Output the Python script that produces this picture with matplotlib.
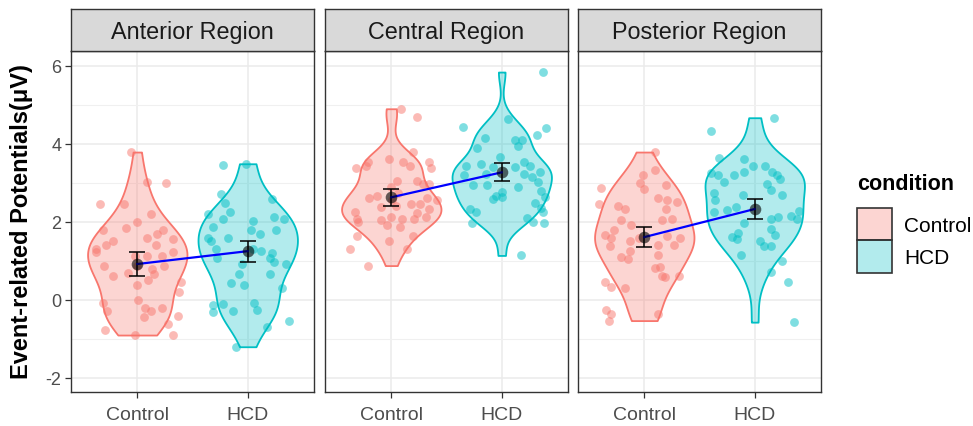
import numpy as np
import matplotlib
matplotlib.use('Agg')
import matplotlib.pyplot as plt
from matplotlib.patches import Patch

plt.rcParams['font.family'] = ['Liberation Sans', 'DejaVu Sans']
plt.rcParams['axes.unicode_minus'] = False

# ---- data ----
regions = ['Anterior Region', 'Central Region', 'Posterior Region']
conditions = ['Control', 'HCD']
colors = ['#F8766D', '#00BFC4']

# Anterior
ant_ctrl_y = [3.79, 2.99, 3.02, 2.45, 2.45, 2.21, 1.99, 1.80, 1.84, 1.80, 1.69, 1.58, 1.55, 1.50, 1.41,
              1.41, 1.31, 1.24, 1.22, 1.12, 1.12, 1.12, 0.88, 0.86, 0.88, 0.79, 0.69, 0.61, 0.67, 0.50,
              0.45, 0.38, 0.21, 0.00, -0.08, -0.28, -0.21, -0.29, -0.21, -0.44, -0.40, -0.62, -0.77,
              -0.89, -0.90]
ant_ctrl_jit = [-0.06, 0.26, 0.09, -0.34, -0.12, 0.12, 0.00, -0.31, -0.10, 0.23, 0.18, 0.09, 0.32, -0.22,
                -0.28, 0.17, -0.37, -0.37, 0.32, 0.09, 0.22, -0.02, -0.30, 0.24, 0.00, 0.13, -0.08, -0.22,
                0.15, 0.10, 0.40, 0.00, 0.38, 0.01, -0.31, -0.27, 0.07, 0.12, 0.22, 0.06, 0.37, 0.28,
                -0.29, -0.02, 0.32]
ant_hcd_y = [3.46, 3.49, 2.72, 2.49, 2.26, 2.59, 2.21, 2.08, 2.03, 2.12, 2.08, 1.86, 1.80, 1.80, 1.69,
             1.58, 1.58, 1.50, 1.31, 1.26, 1.20, 1.07, 1.07, 0.97, 0.92, 0.92, 0.67, 0.67, 0.43, 0.38,
             0.30, -0.14, -0.30, -0.10, -0.29, -0.08, -0.26, -0.70, -0.53, -1.20, 1.31]
ant_hcd_jit = [-0.22, -0.02, -0.24, -0.21, -0.16, 0.22, -0.36, -0.22, 0.05, 0.24, 0.33, -0.31, 0.03, 0.26,
               0.11, -0.36, -0.18, -0.33, -0.29, 0.12, 0.22, -0.28, 0.20, 0.24, 0.35, -0.05, -0.08, 0.20,
               -0.15, -0.03, 0.31, -0.31, -0.31, -0.22, -0.13, 0.06, 0.08, 0.17, 0.37, -0.11, 0.05]

# Central
cen_ctrl_y = [4.90, 4.68, 3.79, 3.53, 3.62, 3.53, 3.44, 3.53, 3.38, 3.38, 3.42, 3.04, 3.04, 2.96, 2.96,
              2.89, 2.67, 2.62, 2.74, 2.62, 2.56, 2.38, 2.46, 2.46, 2.42, 2.33, 2.25, 2.22, 2.08, 2.05,
              2.12, 2.08, 2.08, 2.12, 1.93, 1.88, 1.99, 1.65, 1.52, 1.65, 1.31, 1.31, 0.88, 2.55]
cen_ctrl_jit = [0.09, 0.23, 0.20, -0.21, -0.02, 0.11, 0.17, 0.34, 0.36, -0.32, -0.23, 0.05, 0.23, 0.29,
                0.34, 0.00, -0.13, -0.20, 0.06, 0.32, 0.41, -0.09, 0.18, 0.26, 0.04, 0.34, -0.33, 0.23,
                -0.31, -0.09, 0.00, 0.10, 0.21, 0.31, -0.04, 0.08, -0.30, -0.31, -0.02, 0.20, 0.14, -0.37,
                -0.21, 0.01]
cen_hcd_y = [5.84, 4.43, 4.40, 4.23, 4.15, 4.09, 4.09, 3.94, 3.89, 4.64, 3.66, 3.53, 3.44, 3.44, 3.49,
             3.40, 3.40, 3.29, 3.21, 3.23, 3.15, 3.02, 2.95, 2.95, 2.89, 2.78, 2.76, 2.67, 2.59, 2.63,
             2.63, 2.49, 2.33, 2.25, 2.35, 2.25, 2.09, 1.99, 1.97, 1.97, 1.14, 3.23]
cen_hcd_jit = [0.37, -0.35, 0.40, 0.32, -0.15, 0.12, 0.18, 0.15, -0.22, 0.06, -0.02, 0.20, 0.26, -0.32,
               -0.19, -0.08, 0.12, 0.35, -0.34, 0.20, 0.27, 0.33, -0.13, -0.26, 0.15, 0.36, 0.00, -0.05,
               -0.08, 0.00, 0.39, 0.30, -0.29, -0.23, 0.36, 0.37, 0.23, 0.28, 0.38, -0.27, 0.17, -0.14]

# Posterior
pos_ctrl_y = [3.79, 3.32, 3.21, 3.00, 2.85, 2.95, 2.86, 2.46, 2.40, 2.33, 2.61, 2.57, 2.50, 2.32, 2.05,
              1.92, 2.05, 2.08, 1.80, 1.67, 1.58, 1.38, 1.50, 1.41, 1.41, 1.58, 1.65, 1.26, 1.09, 1.05,
              1.15, 0.81, 0.85, 0.61, 0.58, 0.61, 0.45, 0.34, 0.30, -0.27, -0.36, -0.53, -0.36, 1.58]
pos_ctrl_jit = [0.10, 0.10, -0.01, -0.04, 0.00, 0.20, -0.39, -0.41, -0.24, -0.17, 0.12, 0.21, 0.30, 0.20,
                -0.21, -0.12, 0.16, 0.25, -0.27, -0.36, -0.30, -0.31, -0.13, 0.12, 0.27, 0.32, 0.21, -0.13,
                -0.21, -0.15, 0.12, 0.10, 0.14, 0.16, 0.19, 0.31, -0.36, -0.30, -0.17, -0.35, -0.30, -0.32,
                0.12, -0.05]
pos_hcd_y = [4.67, 4.33, 3.64, 3.62, 3.42, 3.42, 3.27, 3.21, 3.10, 3.27, 3.21, 3.25, 3.19, 3.02, 2.97,
             2.82, 2.70, 2.74, 2.70, 2.56, 2.31, 2.38, 2.25, 1.97, 2.08, 2.12, 2.16, 2.29, 2.08, 1.82,
             1.67, 1.62, 1.71, 1.56, 1.52, 1.37, 1.37, 1.16, 1.01, 0.71, 0.45, -0.57]
pos_hcd_jit = [0.17, -0.40, -0.32, -0.10, -0.02, 0.09, 0.16, 0.20, 0.23, -0.10, -0.19, -0.40, -0.33, -0.28,
               0.11, 0.15, 0.25, -0.37, -0.11, -0.36, -0.25, -0.17, -0.37, -0.10, 0.15, 0.21, 0.33, 0.40,
               0.38, 0.15, 0.18, -0.21, -0.15, -0.16, 0.05, 0.08, 0.15, -0.12, 0.25, 0.15, 0.30, 0.36]

# group means and error bar half-widths
means = [[0.92, 1.25], [2.63, 3.27], [1.61, 2.33]]
errs = [[0.31, 0.27], [0.22, 0.23], [0.25, 0.26]]

values = [[ant_ctrl_y, ant_hcd_y], [cen_ctrl_y, cen_hcd_y], [pos_ctrl_y, pos_hcd_y]]
jitters = [[ant_ctrl_jit, ant_hcd_jit], [cen_ctrl_jit, cen_hcd_jit], [pos_ctrl_jit, pos_hcd_jit]]


def nrd0(kde):
    # R's bw.nrd0 expressed as a factor of the data std
    d = np.asarray(kde.dataset).ravel()
    sd = d.std(ddof=1)
    iqr = np.subtract(*np.percentile(d, [75, 25]))
    lo = min(sd, iqr / 1.34)
    return 0.9 * lo * len(d) ** (-0.2) / d.std(ddof=1)


W, H = 973, 427
fig = plt.figure(figsize=(W / 100, H / 100), dpi=100)

panel_x = [71, 325, 578]
panel_w = 243
top, bottom = 52, 393
strip_top = 10

for k in range(3):
    ax = fig.add_axes([panel_x[k] / W, 1 - bottom / H, panel_w / W, (bottom - top) / H])
    ax.set_xlim(0.4, 2.6)
    ax.set_ylim(-2.36, 6.38)

    # grid like theme_bw
    ax.set_yticks([-2, 0, 2, 4, 6])
    ax.set_yticks([-1, 1, 3, 5], minor=True)
    ax.set_xticks([1, 2])
    ax.set_xticklabels(conditions)
    ax.grid(True, which='major', color='#EBEBEB', linewidth=1.1)
    ax.grid(True, which='minor', axis='y', color='#F0F0F0', linewidth=0.8)
    ax.set_axisbelow(True)
    ax.tick_params(which='minor', length=0)
    ax.tick_params(which='major', length=4, color='#333333', width=0.9)
    ax.tick_params(axis='x', labelsize=14, labelcolor='#4D4D4D', pad=6)
    ax.tick_params(axis='y', labelsize=13, labelcolor='#4D4D4D', pad=3)
    if k > 0:
        ax.tick_params(axis='y', length=0, labelleft=False)
    for s in ax.spines.values():
        s.set_color('#333333')
        s.set_linewidth(1.0)

    for g in range(2):
        vp = ax.violinplot(values[k][g], positions=[g + 1], widths=0.9,
                           showextrema=False, bw_method=nrd0, points=200)
        for b in vp['bodies']:
            b.set_alpha(None)
            b.set_facecolor(matplotlib.colors.to_rgba(colors[g], 0.3))
            b.set_edgecolor(colors[g])
            b.set_linewidth(1.3)
            b.set_zorder(2)
        ax.scatter(np.array(jitters[k][g]) + g + 1, values[k][g], s=40,
                   color=colors[g], alpha=0.5, linewidths=0, zorder=3)

    ax.errorbar([1, 2], means[k], yerr=errs[k], fmt='none', ecolor='black',
                elinewidth=1.1, capsize=6, capthick=1.1, zorder=4)
    ax.plot([1, 2], means[k], color='blue', linewidth=1.6, zorder=5)
    ax.scatter([1, 2], means[k], s=70, color='black', alpha=0.6, linewidths=0, zorder=6)

    # facet strip
    sax = fig.add_axes([panel_x[k] / W, 1 - top / H, panel_w / W, (top - strip_top) / H])
    sax.set_facecolor('#D9D9D9')
    sax.set_xticks([])
    sax.set_yticks([])
    for s in sax.spines.values():
        s.set_color('#333333')
        s.set_linewidth(1.0)
    sax.text(0.5, 0.47, regions[k], ha='center', va='center', fontsize=16.8,
             color='#1A1A1A', transform=sax.transAxes)

fig.text(22 / W, 1 - 222 / H, 'Event-related Potentials(μV)', rotation=90,
         ha='center', va='center', fontsize=17, fontweight='bold')

handles = [Patch(facecolor=matplotlib.colors.to_rgba(c, 0.3), edgecolor='#333333', linewidth=1.2)
           for c in colors]
leg = fig.legend(handles, conditions, title='condition', loc='center left',
                 bbox_to_anchor=(857 / W, 1 - 224 / H), frameon=False, fontsize=15,
                 title_fontproperties={'weight': 'bold', 'size': 15.5},
                 handlelength=1.7, handleheight=2.0, handletextpad=0.55,
                 labelspacing=0.0, borderpad=0.0, borderaxespad=0.0)
leg._legend_box.align = 'left'
leg._legend_box.sep = 10

fig.savefig('out.png', dpi=100)
